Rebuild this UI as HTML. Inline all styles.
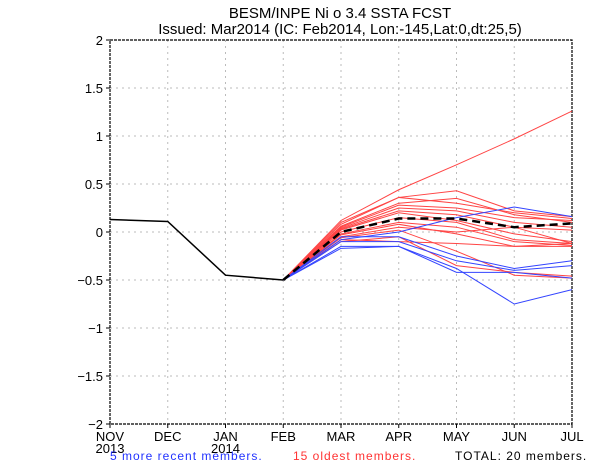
<!DOCTYPE html>
<html><head><meta charset="utf-8"><style>
html,body{margin:0;padding:0;background:#fff;}
svg{display:block;font-family:"Liberation Sans",sans-serif;}
</style></head><body>
<svg id="chart" width="600" height="464">
<text x="340" y="18" text-anchor="middle" font-size="15">BESM/INPE Ni o 3.4 SSTA FCST</text>
<text x="340" y="34" text-anchor="middle" font-size="15">Issued: Mar2014 (IC: Feb2014, Lon:-145,Lat:0,dt:25,5)</text>
<g id="grid"></g><g id="axes"></g><g id="series"></g>
<text x="110" y="460" font-size="12" letter-spacing="1" fill="#2233ff">5 more recent members.</text>
<text x="293" y="460" font-size="12" letter-spacing="1" fill="#ff3333">15 oldest members.</text>
<text x="455" y="460" font-size="12" letter-spacing="1" fill="#000">TOTAL: 20 members.</text>
</svg>
<script>
const months=["NOV","DEC","JAN","FEB","MAR","APR","MAY","JUN","JUL"];
const years=["2013","","2014","","","","","",""];
const yTicks=[-2,-1.5,-1,-0.5,0,0.5,1,1.5,2];
const yTickLabels=["-2","-1.5","-1","-0.5","0","0.5","1","1.5","2"];
const observed=[0.13,0.11,-0.45,-0.50];
const redMembers=[
[0.12,0.44,0.70,0.97,1.26],
[0.10,0.36,0.43,0.22,0.16],
[0.08,0.36,0.30,0.20,0.14],
[0.06,0.30,0.35,0.18,0.10],
[0.05,0.28,0.25,0.15,0.12],
[0.04,0.25,0.22,0.10,0.05],
[0.03,0.22,0.18,0.05,-0.12],
[0.02,0.20,0.12,-0.02,-0.10],
[0.00,0.15,0.10,-0.08,-0.12],
[-0.02,0.10,0.05,-0.10,-0.14],
[-0.03,0.08,-0.02,-0.15,-0.15],
[-0.05,0.05,0.00,0.05,0.02],
[-0.08,-0.10,-0.12,-0.15,-0.12],
[-0.06,0.02,-0.20,-0.45,-0.48],
[-0.10,-0.05,-0.35,-0.42,-0.46]];
const blueMembers=[
[-0.08,0.00,0.15,0.26,0.16],
[-0.05,-0.05,-0.25,-0.38,-0.30],
[-0.10,-0.10,-0.30,-0.40,-0.35],
[-0.15,-0.15,-0.42,-0.42,-0.48],
[-0.17,-0.15,-0.38,-0.75,-0.60]];
const ensembleMean=[0.00,0.14,0.14,0.05,0.09];

const NS="http://www.w3.org/2000/svg";
const X0=110,X1=572,Y0=232,S=96;
const xs=i=>X0+i*(X1-X0)/(months.length-1);
const ys=v=>Y0-v*S;
function mk(tag,parent,attrs){const e=document.createElementNS(NS,tag);for(const k in attrs)e.setAttribute(k,attrs[k]);parent.appendChild(e);return e;}
const grid=document.getElementById('grid'),axes=document.getElementById('axes'),ser=document.getElementById('series');
yTicks.forEach((v,i)=>{
  if(v>-2&&v<2){const l=mk('line',grid,{x1:X0,x2:X1,y1:ys(v),y2:ys(v),stroke:'#bbb','stroke-dasharray':'2,4'});
  
  }
  const t=mk('line',axes,{x1:X0-4,x2:X0,y1:ys(v),y2:ys(v),stroke:'#000'});
  
  
  const tx=mk('text',axes,{x:X0-7,y:ys(v)+5,'text-anchor':'end','font-size':'13'});
  tx.textContent=yTickLabels[i].replace('-','\u2212');
  
  
});
months.forEach((m,i)=>{
  if(i>0&&i<months.length-1){const l=mk('line',grid,{x1:xs(i),x2:xs(i),y1:ys(2),y2:ys(-2),stroke:'#bbb','stroke-dasharray':'2,4'});
  
  }
  const t=mk('line',axes,{x1:xs(i),x2:xs(i),y1:ys(-2),y2:ys(-2)+4,stroke:'#000'});
  
  
  const tx=mk('text',axes,{x:xs(i),y:441,'text-anchor':'middle','font-size':'13'});
  tx.textContent=m;
  
  
  if(years[i]){const ty=mk('text',axes,{x:xs(i),y:453,'text-anchor':'middle','font-size':'13'});
  ty.textContent=years[i];
  
  }
});
const fr=mk('rect',axes,{x:X0,y:ys(2),width:X1-X0,height:ys(-2)-ys(2),fill:'none',stroke:'#000','stroke-width':'1.2','stroke-dasharray':'3,1'});


function poly(vals,start,color,w,dash,name){
  const pts=vals.map((v,i)=>xs(start+i)+','+ys(v)).join(' ');
  const p=mk('polyline',ser,{points:pts,fill:'none',stroke:color,'stroke-width':w});
  if(dash)p.setAttribute('stroke-dasharray',dash);
  
  
}
const feb=observed[observed.length-1];
redMembers.forEach(m=>poly([feb].concat(m),3,'#ff4444',1,null,'old-member-line'));
blueMembers.forEach(m=>poly([feb].concat(m),3,'#3344ff',1,null,'recent-member-line'));
poly(observed,0,'#000',1.5,null,'observed-line');
poly([feb].concat(ensembleMean),3,'#000',2.5,'8,5','ensemble-mean-line');
</script>
</body></html>
